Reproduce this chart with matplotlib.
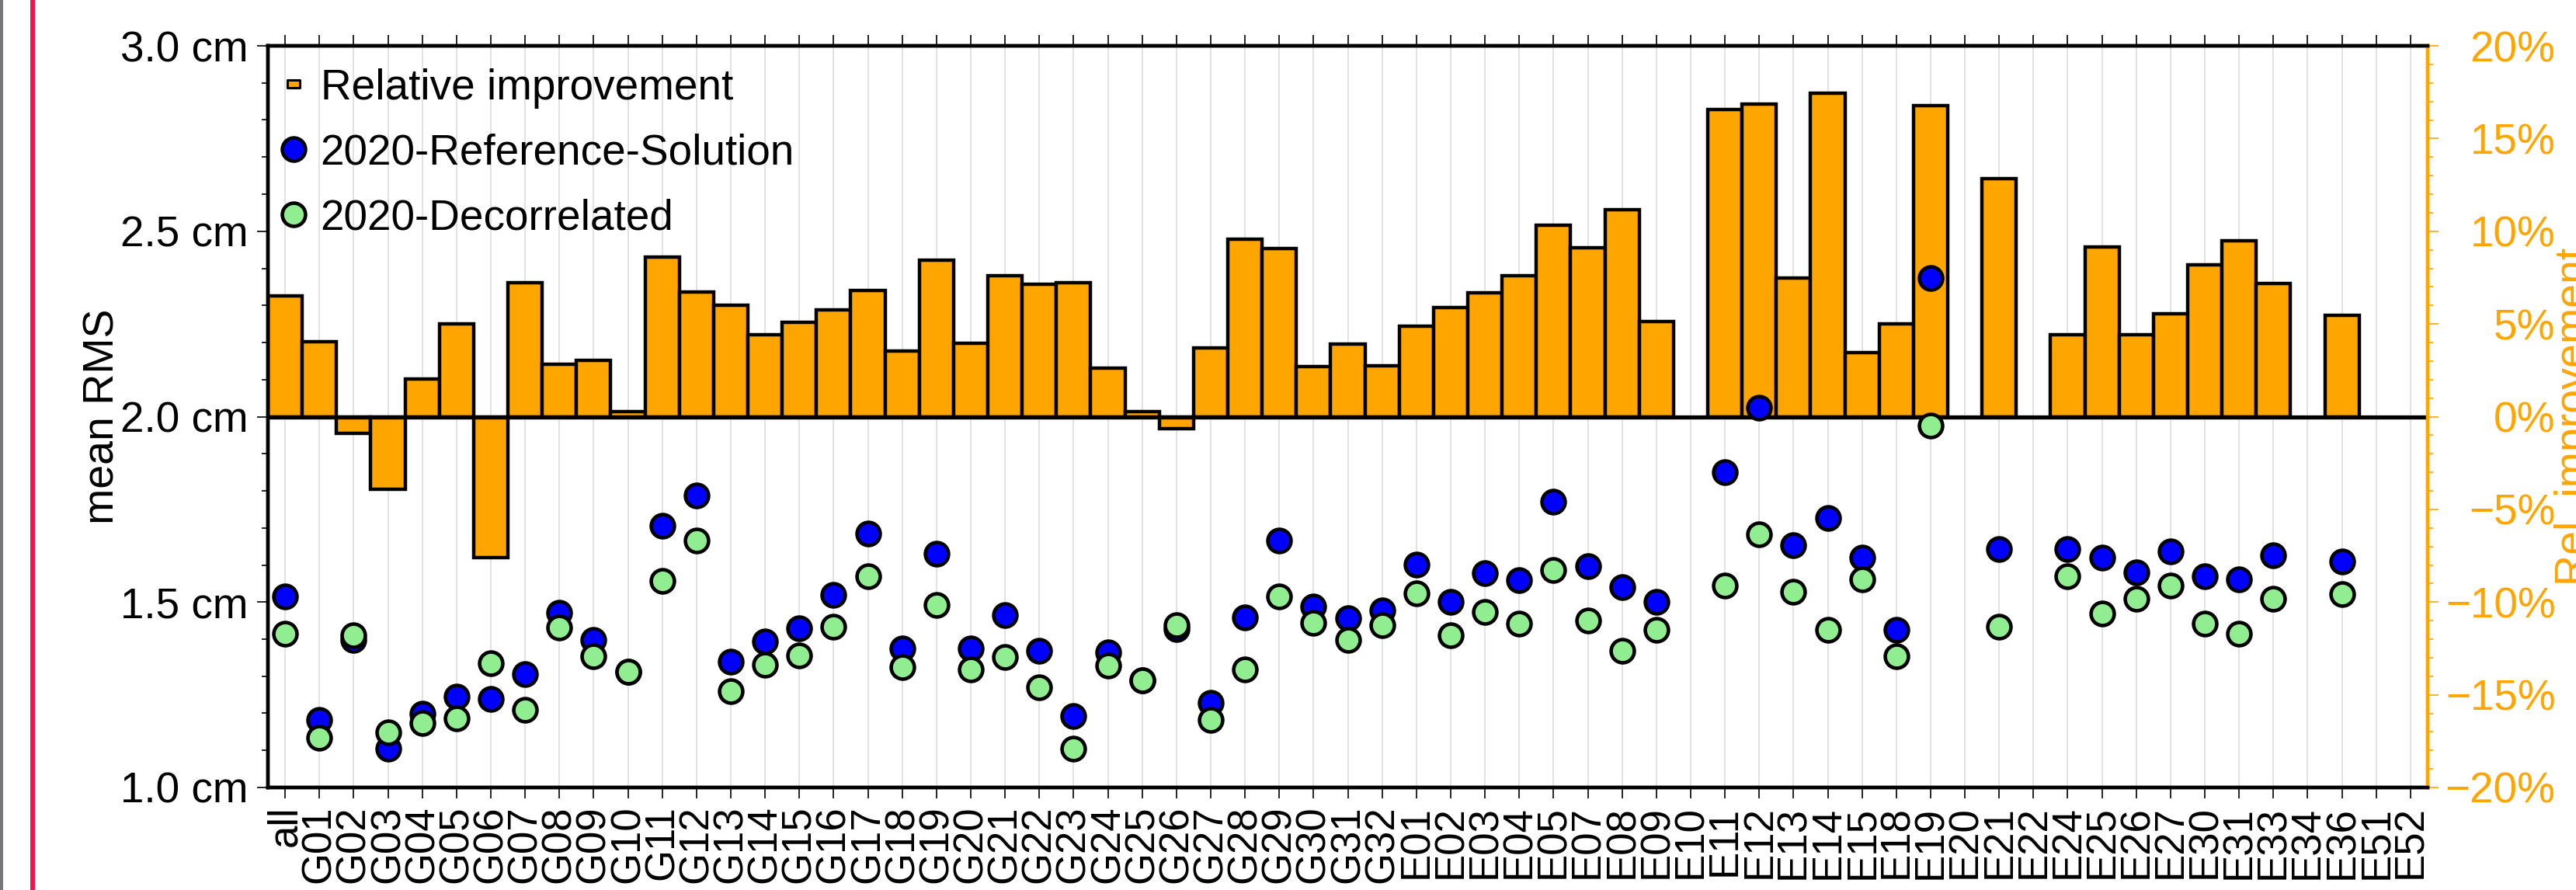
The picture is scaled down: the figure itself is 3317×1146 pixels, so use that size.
import numpy as np
import matplotlib
matplotlib.use('Agg')
import matplotlib.pyplot as plt
from matplotlib.lines import Line2D
from matplotlib.patches import Rectangle
from matplotlib.path import Path
from matplotlib.ticker import MultipleLocator, FuncFormatter

plt.rcParams['font.family'] = ['Liberation Sans', 'DejaVu Sans']

nan = np.nan

# satellites on the x axis
satellites = ['all',
              'G01', 'G02', 'G03', 'G04', 'G05', 'G06', 'G07', 'G08', 'G09', 'G10',
              'G11', 'G12', 'G13', 'G14', 'G15', 'G16', 'G17', 'G18', 'G19', 'G20',
              'G21', 'G22', 'G23', 'G24', 'G25', 'G26', 'G27', 'G28', 'G29', 'G30',
              'G31', 'G32',
              'E01', 'E02', 'E03', 'E04', 'E05', 'E07', 'E08', 'E09', 'E10', 'E11',
              'E12', 'E13', 'E14', 'E15', 'E18', 'E19', 'E20', 'E21', 'E22', 'E24',
              'E25', 'E26', 'E27', 'E30', 'E31', 'E33', 'E34', 'E36', 'E51', 'E52']

# relative improvement in %
rel_improvement = [6.5,
                   4.06, -0.88, -3.93, 2.04, 4.99, -7.59, 7.24, 2.84, 3.02, 0.29,
                   8.62, 6.74, 6.02, 4.43, 5.09, 5.76, 6.82, 3.53, 8.46, 3.95,
                   7.61, 7.16, 7.24, 2.6, 0.27, -0.66, 3.69, 9.58, 9.07, 2.7,
                   3.9, 2.73,
                   4.88, 5.89, 6.68, 7.59, 10.32, 9.1, 11.17, 5.12, nan, 16.55,
                   16.87, 7.48, 17.43, 3.47, 4.99, 16.76, nan, 12.84, nan, 4.43,
                   9.15, 4.40, 5.54, 8.17, 9.47, 7.19, nan, 5.46, nan, nan]

# mean RMS in cm
rms_reference = [1.515,
                 1.183, 1.398, 1.104, 1.200, 1.246, 1.239, 1.306, 1.471, 1.398, 1.313,
                 1.705, 1.787, 1.340, 1.393, 1.430, 1.520, 1.684, 1.374, 1.630, 1.374,
                 1.464, 1.369, 1.192, 1.364, 1.290, 1.428, 1.229, 1.458, 1.665, 1.487,
                 1.456, 1.478,
                 1.602, 1.500, 1.577, 1.560, 1.770, 1.597, 1.541, 1.501, nan, 1.851,
                 2.024, 1.653, 1.726, 1.619, 1.426, 2.373, nan, 1.643, nan, 1.642,
                 1.619, 1.581, 1.636, 1.569, 1.561, 1.626, nan, 1.610, nan, nan]

rms_decorrelated = [1.415,
                    1.134, 1.411, 1.149, 1.173, 1.187, 1.335, 1.210, 1.431, 1.354, 1.313,
                    1.557, 1.667, 1.259, 1.331, 1.356, 1.433, 1.570, 1.324, 1.493, 1.319,
                    1.352, 1.271, 1.104, 1.328, 1.290, 1.438, 1.183, 1.319, 1.516, 1.444,
                    1.398, 1.438,
                    1.524, 1.411, 1.474, 1.442, 1.587, 1.451, 1.368, 1.425, nan, 1.545,
                    1.683, 1.528, 1.426, 1.562, 1.354, 1.976, nan, 1.434, nan, 1.569,
                    1.470, 1.508, 1.544, 1.441, 1.414, 1.508, nan, 1.522, nan, nan]

W, H = 3317, 1146
fig = plt.figure(figsize=(W / 100, H / 100), dpi=100)
fig.patch.set_facecolor('white')

# screenshot borders on the left
fig.add_artist(Rectangle((0, 0), 4 / W, 1, transform=fig.transFigure, color='#75757a', lw=0))
fig.add_artist(Rectangle((39 / W, 0), 6 / W, 1, transform=fig.transFigure, color='#f3124f', lw=0))

left, right, top, bottom = 345, 3126, 59, 1014
ax_bar = fig.add_axes([left / W, 1 - bottom / H, (right - left) / W, (bottom - top) / H])
x = np.arange(len(satellites))

# bars (percent, right axis)
ax_bar.bar(x, rel_improvement, width=1.0, color='orange', edgecolor='black', linewidth=3.2, zorder=2)
ax_bar.axhline(0, color='black', lw=3.8, zorder=3)
ax_bar.set_ylim(-20, 20)
ax_bar.set_xlim(-0.5, len(satellites) - 0.5)
ax_bar.set_axisbelow(True)
ax_bar.grid(axis='x', color='#dddddd', lw=1.2)

# rms dots (cm, left axis)
ms, mew = 21.5, 3.3
ax_rms = ax_bar.twinx()
ax_rms.plot(x, rms_reference, 'o', ms=ms, mfc='blue', mec='black', mew=mew, zorder=4)
ax_rms.plot(x, rms_decorrelated, 'o', ms=ms, mfc='lightgreen', mec='black', mew=mew, zorder=5)
ax_rms.set_ylim(1.0, 3.0)

ax_rms.yaxis.tick_left()
ax_rms.yaxis.set_label_position('left')
ax_bar.yaxis.tick_right()
ax_bar.yaxis.set_label_position('right')

# x axis
ax_bar.set_xticks(x)
ax_bar.set_xticklabels(satellites, rotation=90, fontsize=38)
ax_bar.tick_params(axis='x', top=True, bottom=True, direction='out', length=10, width=1.2, pad=7)

# left axis
ax_rms.yaxis.set_major_locator(MultipleLocator(0.5))
ax_rms.yaxis.set_minor_locator(MultipleLocator(0.1))
ax_rms.yaxis.set_major_formatter(FuncFormatter(lambda v, p: f'{v:.1f} cm'))
ax_rms.tick_params(axis='y', which='major', length=10, width=1.2, pad=8.5, labelsize=39.5)
ax_rms.tick_params(axis='y', which='minor', length=6, width=1.2)
ax_rms.set_ylabel('mean RMS', fontsize=40)
ax_rms.yaxis.set_label_coords(-0.0672, 0.5)

# right axis
pct_ticks = np.arange(-20, 21, 5)
ax_bar.set_yticks(pct_ticks)
ax_bar.set_yticklabels([f'{v:d}%'.replace('-', '\u2212') for v in pct_ticks], ha='right')
ax_bar.yaxis.set_minor_locator(MultipleLocator(1))
ax_bar.tick_params(axis='y', which='major', colors='orange', length=10, width=1.2, pad=108.5, labelsize=39.5)
ax_bar.tick_params(axis='y', which='minor', colors='orange', length=5, width=1.2)
ax_bar.set_ylabel('Rel. improvement', color='orange', fontsize=40)
ax_bar.yaxis.set_label_coords(1.0585, 0.5)

for a in (ax_bar, ax_rms):
    for s in a.spines.values():
        s.set_linewidth(3.2)
        s.set_color('black')
    a.spines['right'].set_color('orange')

# legend
rect = Path([(-1.4, -1), (1.4, -1), (1.4, 1), (-1.4, 1), (-1.4, -1)],
            [Path.MOVETO, Path.LINETO, Path.LINETO, Path.LINETO, Path.CLOSEPOLY])
handles = [
    Line2D([], [], ls='none', marker=rect, ms=11, mfc='orange', mec='black', mew=2.2),
    Line2D([], [], ls='none', marker='o', ms=ms, mfc='blue', mec='black', mew=mew),
    Line2D([], [], ls='none', marker='o', ms=ms, mfc='lightgreen', mec='black', mew=mew),
]
labels = ['Relative improvement', '2020-Reference-Solution', '2020-Decorrelated']
ax_rms.legend(handles, labels, loc='upper left', bbox_to_anchor=(0.006, 0.97),
              frameon=False, borderaxespad=0, borderpad=0, handlelength=0.6,
              handletextpad=0.33, labelspacing=0.58, fontsize=39.5)

fig.savefig('out.png', dpi=100)
